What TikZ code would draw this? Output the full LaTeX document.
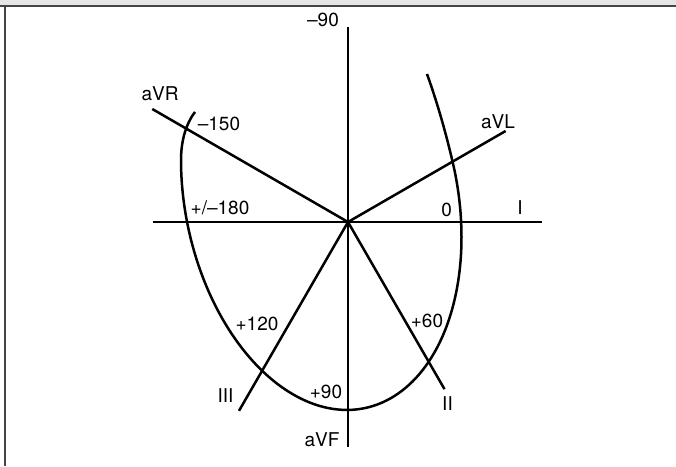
\documentclass[tikz,border=0pt]{standalone}
\usepackage{fontspec}
\setmainfont{TeX Gyre Heros}
\begin{document}
\begin{tikzpicture}[x=1pt, y=1pt,
    lead/.style={line width=2.5pt},
    loop/.style={line width=2.5pt},
    label/.style={inner sep=0pt, font=\fontsize{19}{21}\selectfont},
    declare function={loopr(\t)=1+0.056*(max(0,\t-362)/24.4)^2-0.066*(max(0,162-\t)/15.5)^2;}]
    % Define colours
    \definecolor{bandColour}{HTML}{E6E6E6}
    \definecolor{frameColour}{HTML}{454545}

    % Define the loop radii
    \def\loopA{136.2}
    \def\loopB{214.1}

    % Fix the page size
    \useasboundingbox (-348,-244) rectangle (328,222);

    % Draw the frame
    \fill[bandColour] (-348,217) rectangle (328,222);
    \draw[frameColour, line width=2pt] (-348,216) -- (328,216);
    \draw[frameColour, line width=2pt] (-342.5,217) -- (-342.5,-244);

    % Define coordinates for the ends of the leads
    \coordinate (O) at (0,0);
    \coordinate (Ipos) at (194,0);
    \coordinate (Ineg) at (-195,0);
    \coordinate (aVFtop) at (0,195);
    \coordinate (aVFend) at (0,-225);
    \coordinate (aVRend) at (150:226);
    \coordinate (aVLend) at (30:182);
    \coordinate (IIend) at (300:193);
    \coordinate (IIIend) at (240:218);

    % Draw the leads
    \draw[lead] (Ineg) -- (Ipos);
    \draw[lead] (aVFtop) -- (aVFend);
    \draw[lead] (aVRend) -- (O) -- (IIend);
    \draw[lead] (IIIend) -- (O) -- (aVLend);

    % Draw the loop (a tilted ellipse, bent at its two ends)
    \draw[loop, shift={(-26.75,23.5)}, rotate=11.7]
        plot[domain=146.5:386.4, samples=120, variable=\t, smooth]
        ({loopr(\t)*\loopA*cos(\t)}, {loopr(\t)*\loopB*sin(\t)});

    % Label the leads
    \node[label] (aVR) at (-188,128) {aVR};
    \node[label] (aVL) at (150,100) {aVL};
    \node[label] (I) at (172,14) {I};
    \node[label] (II) at (99.5,-182) {II};
    \node[label] (III) at (-122.5,-174) {III};
    \node[label] (aVF) at (-26,-218) {aVF};

    % Label the angles
    \node[label] (m90) at (-25,202) {--90};
    \node[label] (m150) at (-129,98.5) {--150};
    \node[label] (pm180) at (-128,14.5) {+/--180};
    \node[label] (zero) at (98.7,12) {0};
    \node[label] (p120) at (-91,-102) {+120};
    \node[label] (p60) at (79,-98.5) {+60};
    \node[label] (p90) at (-22,-170) {+90};

\end{tikzpicture}
\end{document}
